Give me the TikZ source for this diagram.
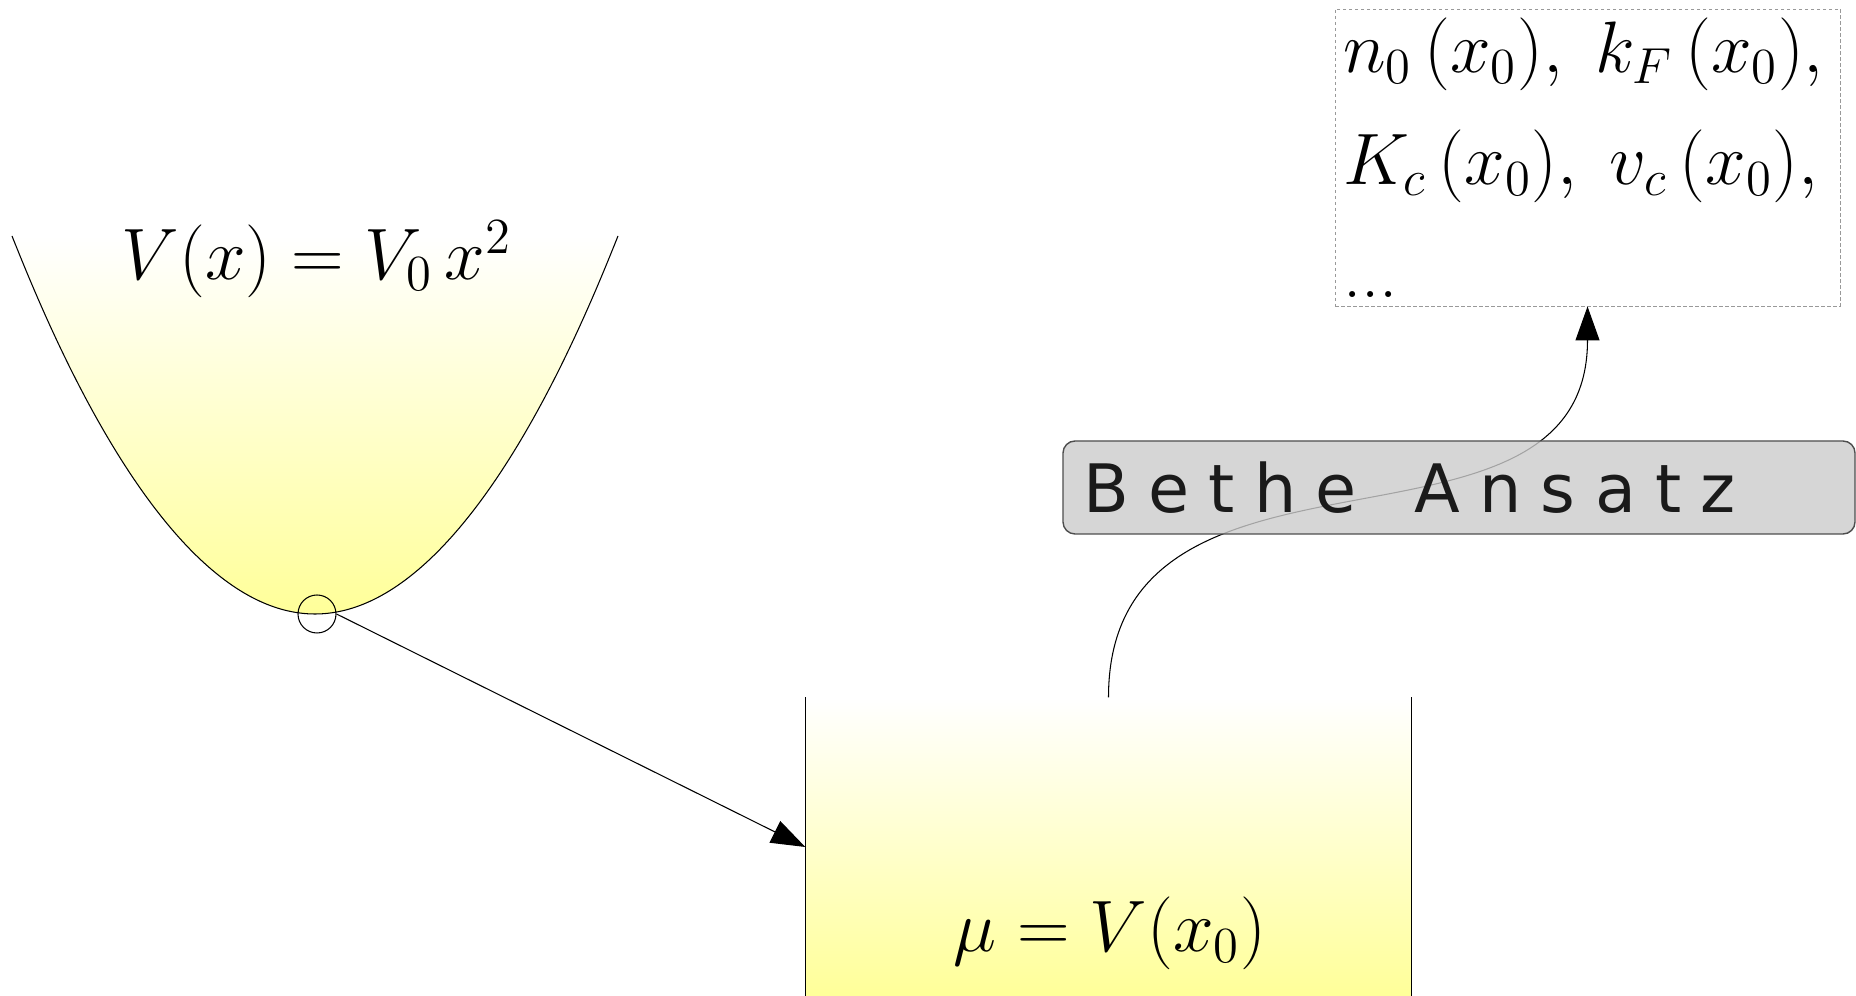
\documentclass[tikz,border=0pt]{standalone}
\usepackage{fontspec}
\usepackage{tikz}
\usetikzlibrary{arrows.meta,positioning}
\newfontfamily\bethefont[LetterSpace=29]{DejaVu Sans}
\definecolor{trapyellow}{HTML}{FFFF99}
\definecolor{boxgrey}{HTML}{CCCCCC}
\definecolor{boxline}{HTML}{4D4D4D}
\definecolor{labeltext}{HTML}{1A1A1A}
\definecolor{dashline}{HTML}{999999}
\tikzset{
  thinline/.style={line width=0.3pt, draw=black},
  trapfill/.style={top color=white, bottom color=trapyellow},
  marker/.style={circle, draw=black, line width=0.3pt, minimum size=3.8mm, inner sep=0pt},
  formula/.style={font=\fontsize{20.74}{26}\selectfont, anchor=base, inner sep=0pt},
  wellbox/.style={trapfill, minimum width=6.05cm, minimum height=2.98cm, inner sep=0pt},
  methodbox/.style={
    rounded corners=1.2mm,
    draw=boxline,
    line width=0.4pt,
    fill=boxgrey,
    fill opacity=0.8,
    text opacity=1,
    text=labeltext,
    font=\bethefont\fontsize{19}{22}\selectfont,
    minimum width=7.92cm,
    minimum height=0.93cm,
    text width=7.52cm,
    align=left,
    inner xsep=2.0mm,
    inner ysep=0pt
  },
  resultbox/.style={
    draw=dashline,
    line width=0.25pt,
    dash pattern=on 0.35mm off 0.25mm,
    font=\fontsize{20.74}{32}\selectfont,
    text width=4.89cm,
    align=left,
    inner xsep=0.8mm,
    inner ysep=0pt,
    minimum width=5.05cm,
    minimum height=2.97cm
  },
  flowarrow/.style={line width=0.3pt, -{Triangle[length=3.4mm,width=2.4mm]}}
}

\begin{document}
\begin{tikzpicture}[x=1cm,y=1cm]
\path[use as bounding box] (0,0) rectangle (18.56,9.96);

\shade[trapfill] (0.12,7.60) parabola bend (3.15,3.82) (6.18,7.60) -- cycle;
\draw[thinline] (0.12,7.60) parabola bend (3.15,3.82) (6.18,7.60);
\node[formula] (pot) at (3.17,7.16) {$V(x) = V_0\,x^2$};
\node[marker] (trap) at (3.17,3.82) {};

\node[wellbox] (well) at (11.085,1.49) {};
\draw[thinline] (well.north west) -- (well.south west);
\draw[thinline] (well.north east) -- (well.south east);
\node[formula] (mu) at (11.10,0.44) {$\mu = V(x_0)$};

\node[resultbox] (results) at (15.875,8.385) {$n_0\,(x_0),\; k_F\,(x_0),$\\$K_c\,(x_0),\; v_c\,(x_0),$\\...};

\draw[flowarrow] (well.north) to[out=90,in=-90,out looseness=1.2,in looseness=1.15] (results.south);
\node[methodbox] (bethe) at (14.59,5.085) {Bethe\hspace{3.5mm} Ansatz};
\draw[flowarrow] (trap.east) -- (well.west);

\end{tikzpicture}
\end{document}
